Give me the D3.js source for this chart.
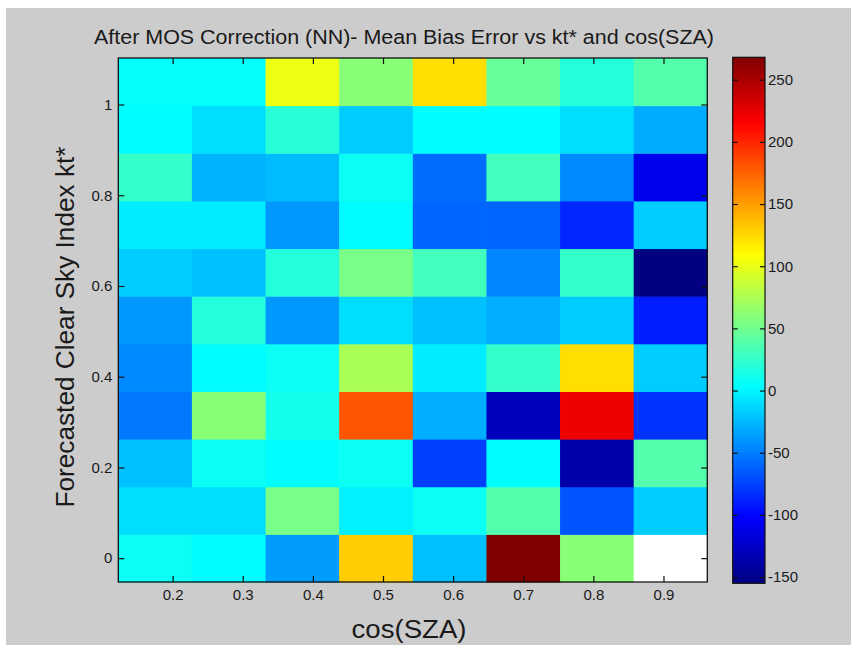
<!DOCTYPE html>
<html>
<head>
<meta charset="utf-8">
<script src="https://cdn.jsdelivr.net/npm/d3@7"></script>
<style>
  html, body { margin: 0; padding: 0; background: #ffffff; }
  svg { display: block; }
  text { font-family: "Liberation Sans", Arial, sans-serif; fill: #1a1a1a; }
</style>
</head>
<body>
<svg id="chart" width="858" height="648"></svg>
<script>
// ---------------- data ----------------
const cosSZA = [0.175, 0.28, 0.385, 0.49, 0.595, 0.70, 0.805, 0.91];   // column centres
const ktStar = [0, 0.105, 0.21, 0.315, 0.42, 0.525, 0.63, 0.735, 0.84, 0.945, 1.05]; // row centres
const binWidth = 0.105;
// Mean bias error, one array per kt* row (bottom row first), values per cos(SZA) column
const mbeKt000 = [8, 3, -37, 130, -22, 268, 60, null];
const mbeKt105 = [-10, -10, 53, -2, 8, 38, -67, -17];
const mbeKt210 = [-22, 8, 3, 8, -76, 3, -137, 38];
const mbeKt315 = [-52, 60, 12, 180, -30, -130, 222, -81];
const mbeKt420 = [-45, 3, 8, 74, -4, 25, 123, -17];
const mbeKt525 = [-39, 18, -39, -10, -22, -30, -17, -90];
const mbeKt630 = [-17, -22, 18, 53, 31, -46, 25, -155];
const mbeKt735 = [-4, -4, -39, 3, -60, -60, -86, -17];
const mbeKt840 = [25, -28, -24, 8, -57, 31, -45, -110];
const mbeKt945 = [3, -10, 20, -17, 3, 3, -10, -31];
const mbeKt1050 = [5, 5, 102, 60, 123, 46, 18, 38];
const mbeRows = [mbeKt000, mbeKt105, mbeKt210, mbeKt315, mbeKt420, mbeKt525,
                 mbeKt630, mbeKt735, mbeKt840, mbeKt945, mbeKt1050];
const colorLimits = [-155, 268];
const xTicks = [0.2, 0.3, 0.4, 0.5, 0.6, 0.7, 0.8, 0.9];
const yTicks = [0, 0.2, 0.4, 0.6, 0.8, 1];
const cbTicks = [-150, -100, -50, 0, 50, 100, 150, 200, 250];
const titleText = "After MOS Correction (NN)- Mean Bias Error vs kt* and cos(SZA)";
const xLabelText = "cos(SZA)";
const yLabelText = "Forecasted Clear Sky Index kt*";

// ---------------- helpers ----------------
function jet(t) {
  const c = v => Math.max(0, Math.min(1, v));
  const r = c(Math.min(4 * t - 1.5, -4 * t + 4.5));
  const g = c(Math.min(4 * t - 0.5, -4 * t + 3.5));
  const b = c(Math.min(4 * t + 0.5, -4 * t + 2.5));
  return d3.rgb(r * 255, g * 255, b * 255).toString();
}

const svg = d3.select("#chart");
// figure background
svg.append("rect").attr("x", 6).attr("y", 8).attr("width", 845).attr("height", 637)
  .attr("fill", "#cccccc");

const plot = { left: 118.3, right: 707.3, top: 58, bottom: 582 };
const x = d3.scaleLinear().domain([cosSZA[0] - binWidth / 2, cosSZA[cosSZA.length - 1] + binWidth / 2])
  .range([plot.left, plot.right]);
const y = d3.scaleLinear().domain([ktStar[0] - binWidth / 2, ktStar[ktStar.length - 1] + binWidth / 2])
  .range([plot.bottom, plot.top]);
const color = d3.scaleSequential(jet).domain(colorLimits).clamp(true);

// cells
const cells = [];
mbeRows.forEach((row, i) => row.forEach((v, j) => cells.push({ kt: ktStar[i], cs: cosSZA[j], v })));
svg.append("g").selectAll("rect").data(cells).join("rect")
  .attr("x", d => x(d.cs - binWidth / 2))
  .attr("y", d => y(d.kt + binWidth / 2))
  .attr("width", d => x(d.cs + binWidth / 2) - x(d.cs - binWidth / 2) + 0.5)
  .attr("height", d => y(d.kt - binWidth / 2) - y(d.kt + binWidth / 2) + 0.5)
  .attr("fill", d => d.v === null ? "#ffffff" : color(d.v));

// axes (ticks inward, MATLAB style)
const tickLen = 6;
const axB = svg.append("g").attr("transform", `translate(0,${plot.bottom})`)
  .call(d3.axisBottom(x).tickValues(xTicks).tickSizeInner(-tickLen).tickSizeOuter(0).tickPadding(7).tickFormat(d3.format(".1f")));
const axT = svg.append("g").attr("transform", `translate(0,${plot.top})`)
  .call(d3.axisTop(x).tickValues(xTicks).tickSizeInner(-tickLen).tickSizeOuter(0).tickFormat(""));
const axL = svg.append("g").attr("transform", `translate(${plot.left},0)`)
  .call(d3.axisLeft(y).tickValues(yTicks).tickSizeInner(-tickLen).tickSizeOuter(0).tickPadding(6)
    .tickFormat(d => d === 0 ? "0" : d === 1 ? "1" : d3.format(".1f")(d)));
const axR = svg.append("g").attr("transform", `translate(${plot.right},0)`)
  .call(d3.axisRight(y).tickValues(yTicks).tickSizeInner(-tickLen).tickSizeOuter(0).tickFormat(""));
[axB, axT, axL, axR].forEach(a => {
  a.select(".domain").remove();
  a.selectAll(".tick line").attr("stroke", "#111").attr("stroke-width", 1.2);
  a.selectAll(".tick text").attr("font-size", 15).attr("fill", "#1a1a1a")
    .style("font-family", '"Liberation Sans", Arial, sans-serif');
});
svg.append("rect").attr("x", plot.left).attr("y", plot.top)
  .attr("width", plot.right - plot.left).attr("height", plot.bottom - plot.top)
  .attr("fill", "none").attr("stroke", "#111").attr("stroke-width", 1.3);

// colorbar
const cb = { left: 732.7, right: 765, top: 57.3, bottom: 583.3 };
const cbScale = d3.scaleLinear().domain(colorLimits).range([cb.bottom, cb.top]);
const defs = svg.append("defs");
const grad = defs.append("linearGradient").attr("id", "jetgrad")
  .attr("x1", 0).attr("y1", 1).attr("x2", 0).attr("y2", 0);
d3.range(0, 1.0001, 1 / 64).forEach(t => {
  grad.append("stop").attr("offset", t).attr("stop-color", jet(t));
});
svg.append("rect").attr("x", cb.left).attr("y", cb.top)
  .attr("width", cb.right - cb.left).attr("height", cb.bottom - cb.top)
  .attr("fill", "url(#jetgrad)").attr("stroke", "#111").attr("stroke-width", 1.2);
const cbAxR = svg.append("g").attr("transform", `translate(${cb.right},0)`)
  .call(d3.axisRight(cbScale).tickValues(cbTicks).tickSizeInner(-5).tickSizeOuter(0).tickPadding(3).tickFormat(d => String(d)));
const cbAxL = svg.append("g").attr("transform", `translate(${cb.left},0)`)
  .call(d3.axisLeft(cbScale).tickValues(cbTicks).tickSizeInner(-5).tickSizeOuter(0).tickFormat(""));
[cbAxR, cbAxL].forEach(a => {
  a.select(".domain").remove();
  a.selectAll(".tick line").attr("stroke", "#111").attr("stroke-width", 1.2);
  a.selectAll(".tick text").attr("font-size", 15).attr("fill", "#1a1a1a")
    .style("font-family", '"Liberation Sans", Arial, sans-serif');
});

// title & labels
svg.append("text").attr("x", 404).attr("y", 44).attr("text-anchor", "middle")
  .attr("font-size", 20).attr("textLength", 620).attr("lengthAdjust", "spacingAndGlyphs")
  .text(titleText);
svg.append("text").attr("x", 409).attr("y", 638).attr("text-anchor", "middle")
  .attr("font-size", 26).attr("textLength", 115).attr("lengthAdjust", "spacingAndGlyphs")
  .text(xLabelText);
svg.append("text").attr("transform", "translate(74,327) rotate(-90)").attr("text-anchor", "middle")
  .attr("font-size", 26).attr("textLength", 361).attr("lengthAdjust", "spacingAndGlyphs")
  .text(yLabelText);
</script>
</body>
</html>
